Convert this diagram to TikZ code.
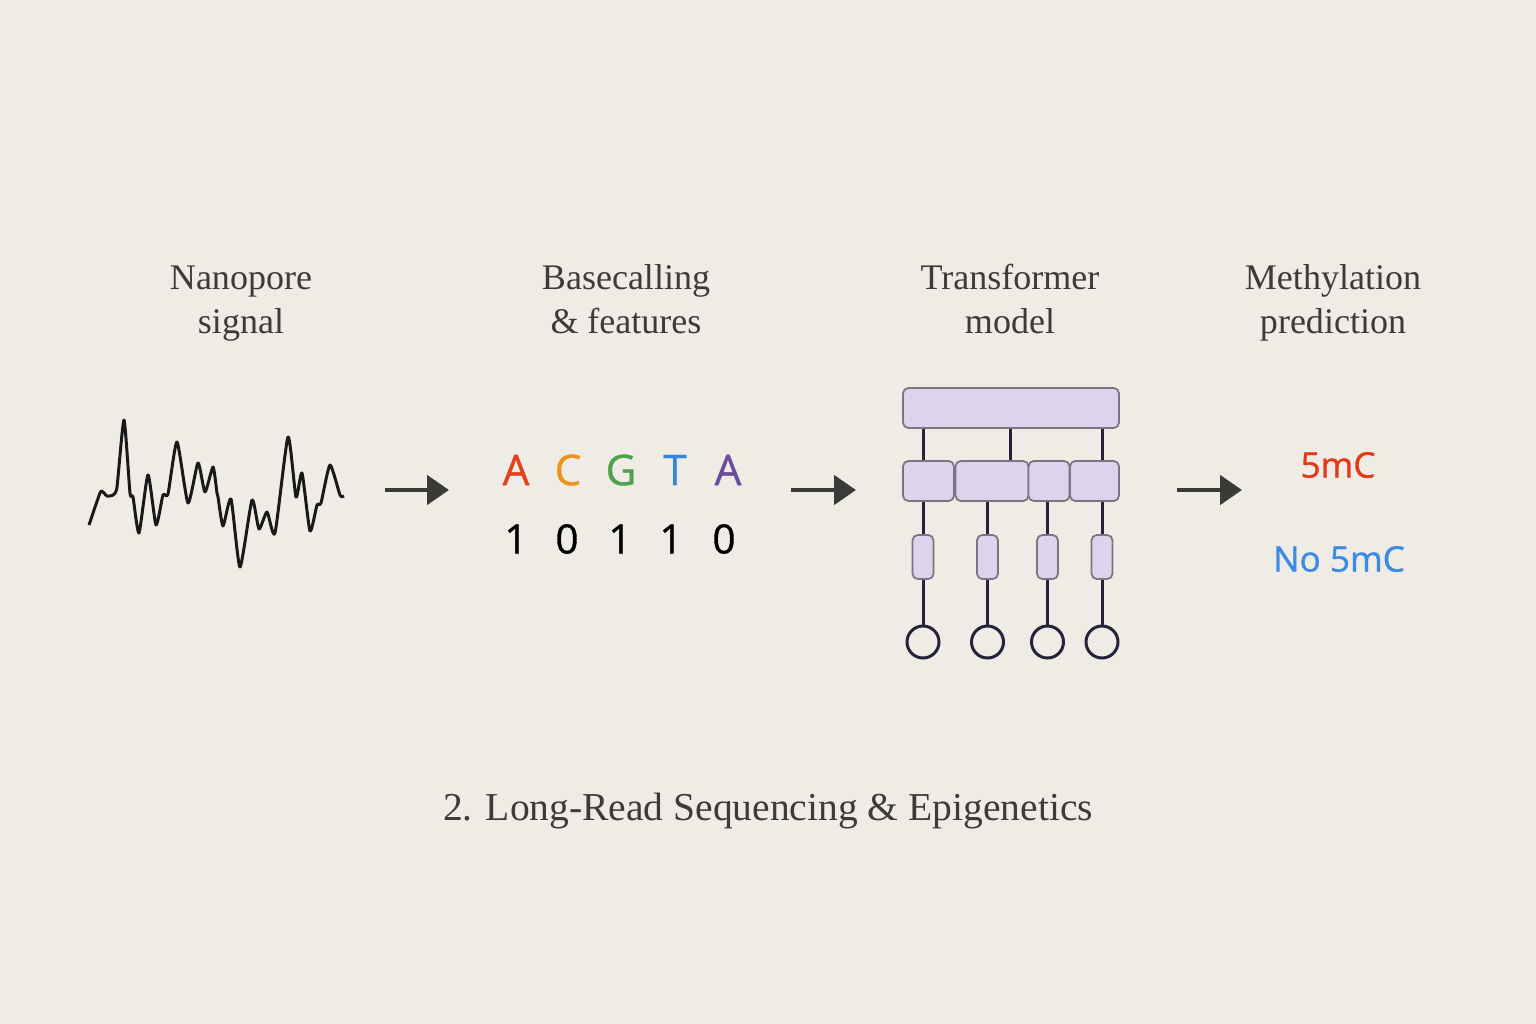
\documentclass[tikz,border=0pt]{standalone}
\usepackage{fontspec}
\setmainfont{Liberation Serif}
\newfontfamily\seqfont[FakeBold=0.9]{Open Sans}
\usetikzlibrary{arrows.meta}
\definecolor{paper}{HTML}{EFEBE5}
\definecolor{headgray}{HTML}{3D3B39}
\definecolor{arrowgray}{HTML}{3A3A38}
\definecolor{lavender}{HTML}{DCD4EC}
\definecolor{boxgray}{HTML}{7A7680}
\definecolor{navy}{HTML}{24233A}
\definecolor{baseA}{HTML}{E5401C}
\definecolor{baseC}{HTML}{EF921C}
\definecolor{baseG}{HTML}{4FA24B}
\definecolor{baseT}{HTML}{2F87E0}
\definecolor{baseAA}{HTML}{6A4C9E}
\definecolor{methred}{HTML}{E03A18}
\definecolor{methblue}{HTML}{3A8AE6}

\begin{document}
\begin{tikzpicture}[x=0.02cm,y=-0.02cm]
\tikzset{heading/.style={align=center, text=headgray, font=\fontsize{20.5}{25}\selectfont},
  letter/.style={font=\seqfont\fontsize{24}{28}\selectfont, inner sep=0pt},
  bit/.style={font=\seqfont\fontsize{23}{28}\selectfont, inner sep=0pt, text=black},
  flow/.style={draw=arrowgray, line width=2.8pt, -{Triangle[length=0.44cm,width=0.58cm]}},
  layer/.style={draw=boxgray, fill=lavender, rounded corners=3pt, line width=1pt, inner sep=0pt},
  wire/.style={draw=navy, line width=1.7pt},
  outnode/.style={circle, draw=navy, line width=1.7pt, minimum size=0.64cm, inner sep=0pt}}
\fill[paper] (0,0) rectangle (1536,1024);
\useasboundingbox (0,0) rectangle (1536,1024);

% headings
\node[heading] (h1) at (241,304) {Nanopore\\signal};
\node[heading] (h2) at (626,299) {Basecalling\\\& features};
\node[heading] (h3) at (1010,299) {Transformer\\model};
\node[heading] (h4) at (1333,303) {Methylation\\prediction};

% signal
\draw[black!90, line width=1.7pt, line join=round] plot[smooth, tension=0.35] coordinates {
(89,525) (100,493) (103,492) (107,496) (113,495) (117,487) (124,420) (130,493)
(133,497) (139,533) (148,475) (156,525) (163,495) (168,494) (177,442) (188,503)
(198,463) (205,492) (213,467) (217,493) (218,497) (223,526) (231,499) (240,567)
(252,500) (259,529) (267,512) (275,533) (288,437) (296,497) (302,473) (310,531)
(317,505) (321,503) (330,465) (340,495) (344,496)};

% bases and features
\node[letter, text=baseA] (b1) at (516,470) {A};
\node[letter, text=baseC] (b2) at (568,470) {C};
\node[letter, text=baseG] (b3) at (621,470) {G};
\node[letter, text=baseT] (b4) at (675,470) {T};
\node[letter, text=baseAA] (b5) at (728,470) {A};
\node[bit] (f1) at (516,539) {1};
\node[bit] (f2) at (567,539) {0};
\node[bit] (f3) at (620,539) {1};
\node[bit] (f4) at (671,539) {1};
\node[bit] (f5) at (724,539) {0};

% transformer
\node[layer, minimum width=4.32cm, minimum height=0.8cm] (top) at (1011,408) {};
\node[layer, minimum width=1.02cm, minimum height=0.8cm] (r1) at (928.5,481) {};
\node[layer, minimum width=1.46cm, minimum height=0.8cm] (r2) at (992,481) {};
\node[layer, minimum width=0.82cm, minimum height=0.8cm] (r3) at (1049,481) {};
\node[layer, minimum width=0.98cm, minimum height=0.8cm] (r4) at (1094.5,481) {};
\node[layer, minimum width=0.42cm, minimum height=0.88cm] (s1) at (923,557) {};
\node[layer, minimum width=0.42cm, minimum height=0.88cm] (s2) at (987.5,557) {};
\node[layer, minimum width=0.42cm, minimum height=0.88cm] (s3) at (1047.5,557) {};
\node[layer, minimum width=0.42cm, minimum height=0.88cm] (s4) at (1102,557) {};
\node[outnode] (o1) at (923,642) {};
\node[outnode] (o2) at (987.5,642) {};
\node[outnode] (o3) at (1047.5,642) {};
\node[outnode] (o4) at (1102,642) {};
\coordinate (mid) at (1010,440);
\draw[wire] (s1 |- top.south) -- (s1 |- r1.north);
\draw[wire] (mid |- top.south) -- (mid |- r2.north);
\draw[wire] (s4 |- top.south) -- (s4 |- r4.north);
\draw[wire] (s1 |- r1.south) -- (s1);
\draw[wire] (s2 |- r2.south) -- (s2);
\draw[wire] (s3 |- r3.south) -- (s3);
\draw[wire] (s4 |- r4.south) -- (s4);
\draw[wire] (s1) -- (o1);
\draw[wire] (s2) -- (o2);
\draw[wire] (s3) -- (o3);
\draw[wire] (s4) -- (o4);

% prediction
\node[font=\seqfont\fontsize{20}{24}\selectfont, text=methred] (m1) at (1338,465) {5mC};
\node[font=\seqfont\fontsize{20}{24}\selectfont, text=methblue] (m2) at (1339,559) {No 5mC};

% arrows
\coordinate (a1s) at (385,490); \coordinate (a1e) at (449,490);
\coordinate (a2s) at (791,490); \coordinate (a2e) at (856,490);
\coordinate (a3s) at (1177,490); \coordinate (a3e) at (1242,490);
\draw[flow] (a1s) -- (a1e);
\draw[flow] (a2s) -- (a2e);
\draw[flow] (a3s) -- (a3e);

% caption
\node[text=headgray, font=\fontsize{22.5}{27}\selectfont] (title) at (768,811) {2. Long-Read Sequencing \& Epigenetics};
\end{tikzpicture}
\end{document}
